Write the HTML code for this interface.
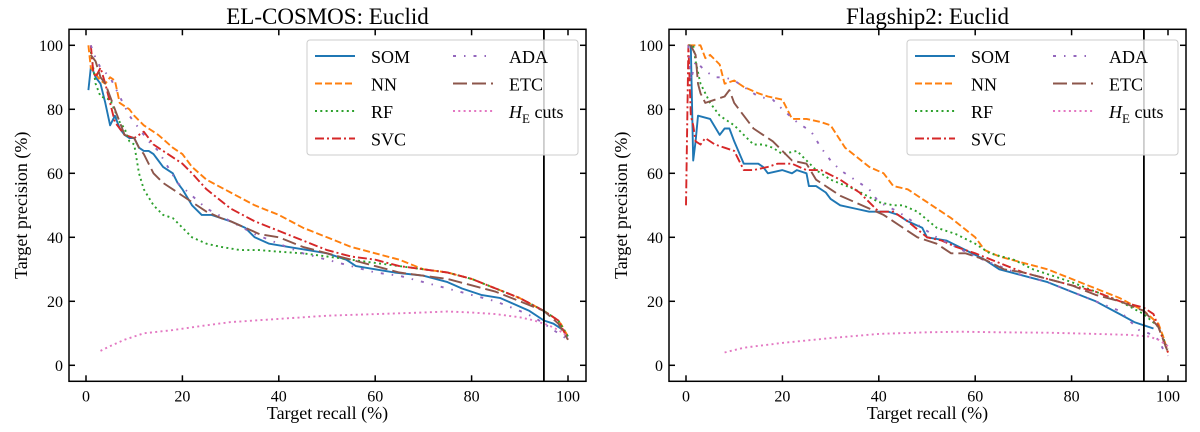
<!DOCTYPE html>
<html><head><meta charset="utf-8"><style>
html,body{margin:0;padding:0;background:#fff;}
svg{display:block;font-family:"Liberation Serif",serif;}
</style></head><body>
<svg id="chart" width="1200" height="432" viewBox="0 0 1200 432" xmlns="http://www.w3.org/2000/svg"></svg>
<script>
const xTicks=[0,20,40,60,80,100];
const yTicks=[0,20,40,60,80,100];
const seriesNames=["SOM","NN","RF","SVC","ADA","ETC","HE"];
const titles=["EL-COSMOS: Euclid","Flagship2: Euclid"];
// Panel 1: EL-COSMOS
const c_SOM=[[0.5,86],[1,93],[1.5,92],[2,90],[3,88],[4,82],[5,75],[6,78],[7,74],[8,72],[9,71],[10,71],[11,68],[12,67],[13,67],[14,66],[15,64],[16,62],[18,60],[19,57],[20,55],[22,50],[24,47],[26,47],[28,46],[30,45],[33,43],[35,40],[38,38],[42,37],[46,36],[50,35],[54,33],[56,31],[60,30],[64,29],[70,28],[75,26],[78,24],[82,22],[86,21],[89,19],[92,17],[95,14],[97,13],[99,11],[100,9]];
const c_NN=[[0.5,100],[1,93],[2,91],[3,89],[4,88],[5,90],[6,89],[7,82],[9,80],[10,78],[12,75],[15,72],[18,68],[20,66],[22,62],[25,58],[30,54],[35,50],[40,47],[45,43],[50,40],[55,37],[60,35],[65,33],[70,30],[75,29],[80,27],[85,24],[90,21],[95,17],[97,15],[98.5,13],[100,9]];
const c_RF=[[1,98],[2,88],[3,84],[5,83],[7,76],[8,74],[9,70],[10,69],[11,60],[12,55],[14,50],[16,47],[18,46],[20,43],[22,40],[25,38],[28,37],[32,36],[36,36],[40,35.5],[45,35],[50,34],[55,33],[60,32],[65,31],[70,30],[75,29],[80,27],[85,24],[90,21],[95,17],[98,14],[100,9]];
const c_SVC=[[1,100],[1.5,92],[2,90],[3,93],[4,88],[5,82],[6,76],[8,72],[10,71],[12,73],[14,69],[16,67],[18,65],[20,63],[22,60],[25,55],[30,49],[35,45],[40,42],[45,39],[50,36],[55,34],[60,33],[65,31],[70,30],[75,29],[80,27],[85,24],[90,21],[95,17],[98,14],[100,8]];
const c_ADA=[[1,100],[2,96],[3,93],[5,90],[7,84],[9,78],[11,74],[13,70],[15,67],[17,62],[19,57],[22,53],[25,49],[30,45],[35,41],[40,38],[45,35],[50,33],[55,31],[60,29],[65,28],[70,26],[75,24],[80,22],[85,20],[90,17],[93,15],[96,12],[98,10],[100,8]];
const c_ETC=[[1,97],[2,95],[3,90],[4,88],[5,84],[6,80],[8,72],[10,71],[11,68],[12,66],[14,60],[16,57],[19,54],[22,51],[25,48],[28,46],[30,45],[33,43],[36,41],[40,40],[45,37],[50,35],[55,33],[60,31],[65,29],[70,28],[75,27],[80,25],[85,23],[90,20],[95,17],[98,13],[100,8]];
const c_HE=[[3,4.5],[5,6],[8,8],[12,10],[18,11],[25,12.5],[30,13.5],[40,14.5],[50,15.5],[60,16],[70,16.5],[75,16.8],[80,16.5],[85,16],[90,15],[93,14],[96,12.5],[98,11],[100,9]];
// Panel 2: Flagship2
const f_SOM=[[1,100],[1.5,64],[2,70],[2.5,78],[5,77],[7,72],[8,74],[9,74],[10,70],[12,63],[15,63],[16,62],[17,60],[20,61],[22,60],[23,61],[25,60],[25.5,56],[27,56],[29,54],[30,52],[32,50],[35,49],[38,48],[42,48],[44,47],[46,45],[49,43],[50,40],[52,39.5],[54,39],[58,36],[62,33],[65,30],[70,28],[75,26],[80,23],[85,20],[90,16],[93,13.5],[95,12.5],[97,11.5]];
const f_NN=[[0.5,100],[3,100],[4,96],[5,97],[7,94],[8,88],[10,89],[12,87],[15,85],[17,84],[20,83],[22,77],[25,77],[28,76],[30,75],[33,68],[38,62],[41,60],[43,56],[46,55],[50,51],[55,46],[60,40],[62,36],[65,34],[70,32],[75,30],[80,27],[85,24],[90,21],[95,17],[98,13],[99,9],[100,4]];
const f_RF=[[0.5,100],[1.5,100],[2,95],[3,88],[5,82],[7,78],[9,76],[10,75],[12,72],[14,69],[16,69],[18,68],[20,66],[23,67],[25,64],[27,61],[30,58],[35,55],[40,51],[43,50],[45,50],[48,48],[52,43],[56,41],[60,38],[63,35],[68,33],[72,30],[76,28],[80,26],[85,23],[90,20],[95,16],[98,12],[100,5]];
const f_SVC=[[0,50],[0.5,100],[1,78],[1.5,75],[2,70],[3,69],[4,71],[6,69],[8,68],[10,67],[12,61],[14,61],[17,62],[19,63],[22,63],[25,61],[28,61],[32,58],[36,54],[40,48],[43,48],[46,45],[50,40],[53,39],[56,37],[60,35],[65,32],[70,29],[75,27],[80,25],[85,23],[90,20],[95,18],[97,16],[98,12],[99,8],[100,4]];
const f_ADA=[[0.5,100],[1,89],[2,95],[4,92],[6,90],[8,90],[10,89],[12,87],[15,84],[18,83],[20,80],[23,76],[26,73],[28,68],[30,64],[32,61],[35,58],[38,55],[40,51],[44,48],[47,45],[52,40],[56,37],[60,34],[65,31],[70,28],[75,26],[80,23],[85,20],[90,17],[92,14],[94,11],[96,10],[98,8],[99,5],[100,3]];
const f_ETC=[[1,100],[2,97],[2.5,88],[3,85],[4,82],[6,83],[8,84],[9,86],[10,82],[12,78],[14,74],[16,72],[18,70],[20,67],[22,64],[25,63],[27,58],[30,55],[32,53],[35,51],[38,49],[41,47],[43,45],[46,42],[48,40],[52,38],[55,35],[58,35],[62,33],[66,30],[70,29],[75,27],[80,25],[85,22],[90,20],[95,17],[98,12],[100,4]];
const f_HE=[[8,4],[12,5.5],[20,7],[30,8.5],[40,9.8],[50,10.3],[57,10.5],[65,10.3],[75,10.2],[85,9.8],[92,9.5],[96,9],[98,8],[100,6]];
const vlineX=95;

const panelsData=[[c_SOM,c_NN,c_RF,c_SVC,c_ADA,c_ETC,c_HE],[f_SOM,f_NN,f_RF,f_SVC,f_ADA,f_ETC,f_HE]];
const styles={
 SOM:{c:"#1f77b4",d:""},NN:{c:"#ff7f0e",d:"7,3"},RF:{c:"#2ca02c",d:"2,3.3"},
 SVC:{c:"#d62728",d:"9,3,2,3"},ADA:{c:"#9467bd",d:"3,8,1.5,8"},ETC:{c:"#8c564b",d:"14,5"},HE:{c:"#e377c2",d:"2,3.3"}};
const NS="http://www.w3.org/2000/svg";
const svg=document.getElementById("chart");
function mk(tag,attrs,parent){const e=document.createElementNS(NS,tag);for(const k in attrs)e.setAttribute(k,attrs[k]);(parent||svg).appendChild(e);return e;}

panelsData.forEach((series,p)=>{
 const off=p*600;
 const xs=v=>off+86+v*4.82;
 const ys=v=>365.3-v*3.2;
 const L=off+69,R=off+586,T=29.3,B=381.3;
 const g=mk("g",{});
 
 
 const t=mk("text",{x:(L+R)/2,y:24,"text-anchor":"middle","font-size":"23"},g);
 t.textContent=titles[p];
 
 
 const clip=mk("clipPath",{id:"clip"+p},g);
 mk("rect",{x:L,y:T,width:R-L,height:B-T},clip);
 const lg=mk("g",{"clip-path":"url(#clip"+p+")"},g);
 series.forEach((pts,i)=>{
  const st=styles[seriesNames[i]];
  const path=mk("polyline",{points:pts.map(q=>xs(q[0]).toFixed(1)+","+ys(q[1]).toFixed(1)).join(" "),fill:"none",stroke:st.c,"stroke-width":"1.9","stroke-dasharray":st.d,"stroke-linejoin":"round"},lg);
  
  
 });
 const vl=mk("line",{x1:xs(vlineX),x2:xs(vlineX),y1:T,y2:B,stroke:"#000","stroke-width":"1.8"},g);
 
 
 // legend
 const leg=mk("g",{},g);
 
 
 mk("rect",{x:off+307,y:40,width:271,height:115,rx:3,fill:"#fff","fill-opacity":"0.8",stroke:"#ccc","stroke-width":"1"},leg);
 seriesNames.forEach((n,i)=>{
  const col=i<4?0:1,row=i<4?i:i-4;
  const lx=off+315+col*138,ly=56+row*27.5;
  const st=styles[n];
  mk("line",{x1:lx,x2:lx+40,y1:ly+7-7,y2:ly,stroke:st.c,"stroke-width":"1.9","stroke-dasharray":st.d},leg);
  const tx=mk("text",{x:lx+56,y:ly+7,"font-size":"18"},leg);
  if(n==="HE"){tx.innerHTML='<tspan font-style="italic">H</tspan><tspan font-size="13" dy="5">E</tspan><tspan dy="-5"> cuts</tspan>';}
  else tx.textContent=n;
  
  
 });
 // ticks
 xTicks.forEach(v=>{
  mk("line",{x1:xs(v),x2:xs(v),y1:B,y2:B-6,stroke:"#000","stroke-width":"1.5"},g);
  mk("line",{x1:xs(v),x2:xs(v),y1:T,y2:T+6,stroke:"#000","stroke-width":"1.5"},g);
  const tl=mk("text",{x:xs(v),y:B+20,"text-anchor":"middle","font-size":"16"},g);
  tl.textContent=v;
  
  
 });
 yTicks.forEach(v=>{
  mk("line",{x1:L,x2:L+6,y1:ys(v),y2:ys(v),stroke:"#000","stroke-width":"1.5"},g);
  mk("line",{x1:R,x2:R-6,y1:ys(v),y2:ys(v),stroke:"#000","stroke-width":"1.5"},g);
  const tl=mk("text",{x:L-6,y:ys(v)+5.5,"text-anchor":"end","font-size":"16"},g);
  tl.textContent=v;
  
  
 });
 const fr=mk("rect",{x:L,y:T,width:R-L,height:B-T,fill:"none",stroke:"#000","stroke-width":"1.5"},g);
 
 
 const xl=mk("text",{x:(L+R)/2,y:419,"text-anchor":"middle","font-size":"18"},g);
 xl.textContent="Target recall (%)";
 
 
 const yl=mk("text",{x:0,y:0,"text-anchor":"middle","font-size":"18",transform:"translate("+(off+27)+","+((T+B)/2)+") rotate(-90)"},g);
 yl.textContent="Target precision (%)";
 
 
});
</script>
</body></html>
